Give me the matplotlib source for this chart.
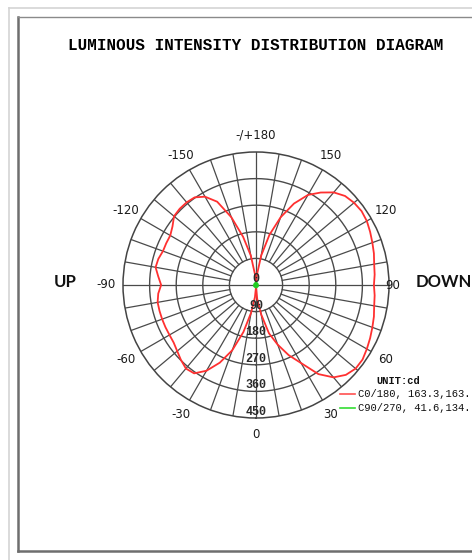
import matplotlib
matplotlib.use("Agg")
import matplotlib.pyplot as plt
from matplotlib.lines import Line2D
import numpy as np

# gamma angles (deg), 0 = straight down
gamma = list(range(0, 181, 5))
# C0 half (drawn on the right, "DOWN" side)
c0_cd = [7, 47, 101, 169, 215, 262, 305, 368, 408, 430, 440, 440, 433, 426, 419, 413, 406, 403, 399,
         403, 406, 413, 419, 426, 433, 436, 433, 426, 409, 382, 352, 304, 244, 176, 101, 34, 7]
# C180 half (drawn on the left, "UP" side)
c180_cd = [7, 41, 95, 165, 235, 290, 335, 365, 369, 359, 348, 340, 338, 338, 338, 338, 338, 332, 321,
           332, 345, 342, 335, 335, 335, 345, 362, 365, 365, 362, 345, 311, 244, 169, 101, 34, 7]
# C90/270 is tiny, just a blob at the centre
c90_angles = [-180, -120, -60, 0, 60, 120, 180]
c90_cd = [3, 4, 5, 6, 5, 4, 3]

ring_values = [0, 90, 180, 270, 360, 450]
angle_ticks = [-150, -120, -90, -60, -30, 0, 30, 60, 90, 120, 150, 180]
angle_labels = ['-150', '-120', '-90', '-60', '-30', '0', '30', '60', '90', '120', '150', '-/+180']

legend_texts = ['C0/180, 163.3,163.', 'C90/270, 41.6,134.']

W, H = 472, 560
fig = plt.figure(figsize=(W / 100, H / 100), dpi=100)
fig.patch.set_facecolor('white')

def fx(px):
    return px / W

def fy(py):
    return 1 - py / H

# page frame
fig.add_artist(Line2D([fx(9), fx(9)], [fy(8), 0], color='#d4d4d4', lw=1.2))
fig.add_artist(Line2D([fx(9), 1], [fy(8), fy(8)], color='#d4d4d4', lw=1.2))
fig.add_artist(Line2D([fx(18), fx(18)], [fy(17), fy(551)], color='#6e6e6e', lw=1.8))
fig.add_artist(Line2D([fx(18), 1], [fy(551), fy(551)], color='#6e6e6e', lw=1.8))
fig.add_artist(Line2D([fx(18), 1], [fy(17), fy(17)], color='#8a8a8a', lw=1.0))

# polar axes: centre (256, 285), radius 133 px
cx, cy, R = 256, 285, 133
ax = fig.add_axes([fx(cx - R), fy(cy + R), 2 * R / W, 2 * R / H], projection='polar')
ax.set_theta_zero_location('S')
ax.set_theta_direction(1)
ax.set_rlim(0, 450)
ax.grid(False)
ax.set_xticks([])
ax.set_yticks([])
ax.spines['polar'].set_color('#444444')
ax.spines['polar'].set_linewidth(1.1)

grid_c = '#4a4a4a'
full = np.linspace(0, 2 * np.pi, 361)
for rv in ring_values[1:-1]:
    ax.plot(full, [rv] * len(full), color=grid_c, lw=1.0, zorder=1)
for d in range(0, 360, 10):
    t = np.deg2rad(d)
    r0 = 0 if d % 90 == 0 else 90
    ax.plot([t, t], [r0, 450], color=grid_c, lw=0.9, zorder=1)

# curves
t_right = np.deg2rad(gamma)
t_left = np.deg2rad([-g for g in gamma])
ax.plot(t_right, c0_cd, color='#ff3030', lw=1.3, zorder=3)
ax.plot(t_left, c180_cd, color='#ff3030', lw=1.3, zorder=3)
ax.plot(np.deg2rad(c90_angles), c90_cd, color='#22cc22', lw=2.5, zorder=4)

# radial labels down the 0 axis
for rv in ring_values:
    ax.text(0, rv, str(rv), ha='center', va='bottom', fontsize=8.5, weight='bold',
            family='Liberation Mono', color='#2a2a2a', zorder=5)

# angle labels
for a, lab in zip(angle_ticks, angle_labels):
    rr = 462 if a == 90 else 507
    ax.text(np.deg2rad(a), rr, lab, ha='center', va='center', fontsize=8.5,
            family='DejaVu Sans', color='#1a1a1a')

fig.text(fx(256), fy(45), 'LUMINOUS INTENSITY DISTRIBUTION DIAGRAM', ha='center', va='center',
         fontsize=11.5, family='Liberation Mono', weight='bold', color='#000000')
fig.text(fx(65), fy(282), 'UP', ha='center', va='center', fontsize=12,
         family='Lato', weight='bold', color='#111111')
fig.text(fx(444), fy(282), 'DOWN', ha='center', va='center', fontsize=12,
         family='Lato', weight='bold', color='#111111')

# legend
fig.text(fx(398), fy(381), 'UNIT:cd', ha='center', va='center', fontsize=7.5,
         family='Liberation Mono', weight='bold', color='#111111')
for i, (txt, col) in enumerate(zip(legend_texts, ['#ff5050', '#33dd33'])):
    yy = 394 + 14 * i
    fig.add_artist(Line2D([fx(340), fx(355)], [fy(yy), fy(yy)], color=col, lw=1.2))
    fig.text(fx(358), fy(yy), txt, ha='left', va='center', fontsize=7.6,
             family='Liberation Mono', color='#111111')

fig.savefig('out.png', dpi=100)
